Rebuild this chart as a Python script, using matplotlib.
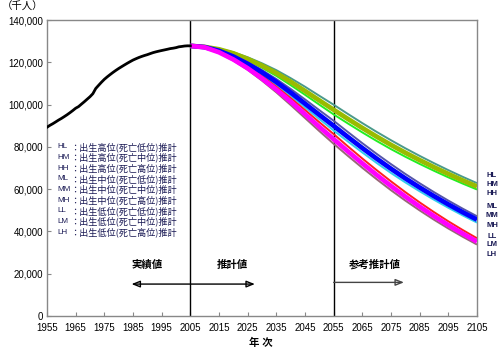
import matplotlib
matplotlib.use("Agg")
import matplotlib.pyplot as plt
from matplotlib.ticker import FuncFormatter

plt.rcParams['font.family'] = ['Liberation Sans', 'Noto Sans CJK JP', 'DejaVu Sans']

# Historical (actual) population, thousands
hist_years = list(range(1955, 2006))
hist_vals = [89276, 90172, 90928, 91767, 92641, 93419, 94287, 95181, 96156, 97182,
             98275, 99036, 100196, 101331, 102536, 103720, 105145, 107595, 109104, 110573,
             111940, 113094, 114165, 115190, 116155, 117060, 117902, 118728, 119536, 120305,
             121049, 121660, 122239, 122745, 123205, 123611, 124101, 124567, 124938, 125265,
             125570, 125859, 126157, 126472, 126667, 126926, 127316, 127486, 127694, 127787,
             127768]

proj_years = list(range(2005, 2106, 5))
HL = [127768, 127376, 126430, 124735, 122370, 119524, 116279, 112495, 108443, 104152, 99930,
      95530, 91230, 87080, 83130, 79330, 75730, 72280, 68980, 65830, 62830]
HM = [127768, 127276, 126130, 124235, 121570, 118424, 114879, 110795, 106443, 101952, 97530,
      93180, 88930, 84830, 80930, 77230, 73730, 70380, 67180, 64130, 61230]
HH = [127768, 127176, 125830, 123735, 120870, 117424, 113579, 109195, 104643, 99952, 95330,
      91030, 86830, 82780, 78930, 75330, 71930, 68680, 65580, 62630, 59830]
ML = [127768, 127276, 125730, 123235, 120070, 116324, 112079, 107395, 102443, 97352, 92330,
      86980, 81730, 76680, 71830, 67180, 62780, 58580, 54580, 50780, 47180]
MM = [127768, 127176, 125430, 122735, 119270, 115224, 110679, 105695, 100443, 95152, 89930,
      84630, 79430, 74430, 69630, 65080, 60780, 56680, 52780, 49080, 45580]
MH = [127768, 127076, 125130, 122235, 118570, 114224, 109379, 104095, 98643, 93152, 87730,
      82480, 77330, 72380, 67630, 63180, 58980, 54980, 51180, 47580, 44180]
LL = [127768, 127176, 125030, 121835, 117970, 113424, 108479, 103095, 97443, 91652, 86030,
      80180, 74480, 68980, 63680, 58580, 53730, 49130, 44780, 40680, 36780]
LM = [127768, 127076, 124730, 121335, 117170, 112324, 107079, 101395, 95443, 89452, 83630,
      77830, 72180, 66730, 61480, 56480, 51730, 47230, 42980, 38980, 35180]
LH = [127768, 126976, 124430, 120835, 116470, 111324, 105779, 99795, 93643, 87452, 81430,
      75680, 70080, 64680, 59480, 54580, 49930, 45530, 41380, 37480, 33780]

series_names = ['HL', 'HM', 'HH', 'ML', 'MM', 'MH', 'LL', 'LM', 'LH']
series_vals = [HL, HM, HH, ML, MM, MH, LL, LM, LH]
series_colors = ['#4a9a8a', '#99bb00', '#22ee22', '#5555aa', '#0000ff', '#33ccee',
                 '#ff2020', '#ff00ff', '#996677']
series_widths = [1.4, 3.4, 1.4, 1.4, 3.4, 1.4, 1.4, 3.4, 1.4]

legend_desc = ['：出生高位(死亡低位)推計', '：出生高位(死亡中位)推計', '：出生高位(死亡高位)推計',
               '：出生中位(死亡低位)推計', '：出生中位(死亡中位)推計', '：出生中位(死亡高位)推計',
               '：出生低位(死亡低位)推計', '：出生低位(死亡中位)推計', '：出生低位(死亡高位)推計']

xticks = list(range(1955, 2106, 10))
yticks = list(range(0, 140001, 20000))

fig = plt.figure(figsize=(5.04, 3.54), dpi=100)
ax = fig.add_axes([47/504, 1-316/354, 430/504, 296/354])

ax.plot(hist_years, hist_vals, color='black', lw=2.0, zorder=5)
order = [0, 2, 1, 3, 5, 4, 6, 8, 7]
for i in order:
    ax.plot(proj_years, series_vals[i], color=series_colors[i], lw=series_widths[i],
            solid_capstyle='butt', zorder=3 + (1 if series_widths[i] > 2 else 0))

ax.axvline(2005, color='black', lw=1.0, zorder=2)
ax.axvline(2055, color='black', lw=1.0, zorder=2)

ax.set_xlim(1955, 2105)
ax.set_ylim(0, 140000)
ax.set_xticks(xticks)
ax.set_yticks(yticks)
ax.yaxis.set_major_formatter(FuncFormatter(lambda v, p: f"{int(v):,}"))
ax.tick_params(direction='in', length=3, width=0.8, color='#888888', labelsize=7, pad=3)
ax.tick_params(axis='x', pad=5)
for s in ax.spines.values():
    s.set_color('#888888')
    s.set_linewidth(1.0)

# Legend text block
navy = '#1a1a55'
for k, (code, desc) in enumerate(zip(series_names, legend_desc)):
    yv = 80000 - k * 5050
    ax.text(1958.5, yv, code, fontsize=5.8, color=navy, va='center', ha='left')
    ax.text(1963.0, yv, desc, fontsize=6.6, color=navy, va='center', ha='left',
            family=['Noto Sans CJK JP', 'DejaVu Sans'])

# Right-end labels
end_labels_y = [66600, 62100, 57800, 51700, 47300, 43000, 37800, 33600, 29300]
for name, yv in zip(series_names, end_labels_y):
    ax.text(1.035, yv, name, transform=ax.get_yaxis_transform(), fontsize=5.5, color=navy,
            ha='center', va='center', fontweight='bold', clip_on=False)

# Annotations
ax.text(1990, 24000, '実績値', fontsize=7.5, ha='center', va='center', fontweight='bold')
ax.text(2019.5, 24000, '推計値', fontsize=7.5, ha='center', va='center', fontweight='bold')
ax.text(2069.5, 24300, '参考推計値', fontsize=7.5, ha='center', va='center', fontweight='bold')
ax.annotate('', xy=(1984.5, 15100), xytext=(2027.5, 15100),
            arrowprops=dict(arrowstyle='<|-|>,head_length=0.5,head_width=0.2', color='black', lw=1.0,
                            fill=False, shrinkA=0, shrinkB=0))
ax.annotate('', xy=(2079.5, 15900), xytext=(2055, 15900),
            arrowprops=dict(arrowstyle='-|>,head_length=0.5,head_width=0.2', color='#444444', lw=1.0,
                            fill=False, shrinkA=0, shrinkB=0))

fig.text(261/504, 1-343/354, '年 次', fontsize=7.5, ha='center', va='center', fontweight='bold')
fig.text(2/504, 1-7/354, '（千人）', fontsize=7.5, ha='left', va='center')

fig.savefig('out.png', dpi=100)
